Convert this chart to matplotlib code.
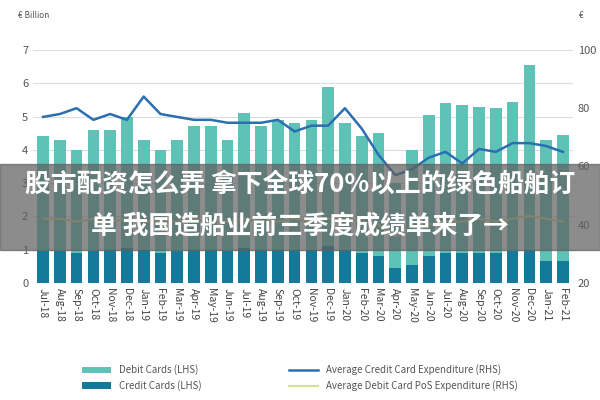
import matplotlib
matplotlib.use("Agg")
import matplotlib.pyplot as plt
from matplotlib.patches import Rectangle

plt.rcParams['font.family'] = ['Noto Sans CJK SC', 'DejaVu Sans']

months = ["Jul-18","Aug-18","Sep-18","Oct-18","Nov-18","Dec-18","Jan-19","Feb-19","Mar-19","Apr-19","May-19","Jun-19",
          "Jul-19","Aug-19","Sep-19","Oct-19","Nov-19","Dec-19","Jan-20","Feb-20","Mar-20","Apr-20","May-20","Jun-20",
          "Jul-20","Aug-20","Sep-20","Oct-20","Nov-20","Dec-20","Jan-21","Feb-21"]
total = [4.4,4.3,4.0,4.6,4.6,5.0,4.3,4.0,4.3,4.7,4.7,4.3,5.1,4.7,4.9,4.8,4.9,5.9,4.8,4.4,4.5,3.0,4.0,5.05,
         5.4,5.35,5.3,5.25,5.45,6.55,4.3,4.45]
credit = [0.95,0.95,0.9,0.95,1.0,1.05,1.0,0.9,0.95,1.0,1.0,0.95,1.05,1.0,1.0,1.0,1.0,1.1,1.0,0.9,0.8,0.45,0.55,0.8,
          0.9,0.9,0.9,0.9,0.95,1.0,0.65,0.65]
debit = [t - c for t, c in zip(total, credit)]
credit_exp = [77,78,80,76,78,76,84,78,77,76,76,75,75,75,76,72,74,74,80,73,64,57,59,63,65,61,66,65,68,68,67,65]
debit_exp = [42,42,41,42,41,42,41,41,41,42,41,41,42,41,41,42,41,42,42,41,40,36,38,40,41,41,42,41,42,43,42,41]

fig = plt.figure(figsize=(6,4), dpi=100)
ax = fig.add_axes([0.055,0.293,0.90,0.582])
x = list(range(len(months)))
ax.bar(x, credit, width=0.7, color='#157a99', label='Credit Cards (LHS)')
ax.bar(x, debit, width=0.7, bottom=credit, color='#5ec2b7', label='Debit Cards (LHS)')
ax.set_ylim(0,7)
ax.set_xlim(-0.6, len(x)-0.4)
ax.set_yticks(range(0,8))
ax.set_xticks(x)
ax.set_xticklabels(months, rotation=-90, fontsize=7.5, color='#444')
ax.tick_params(axis='y', labelsize=8, colors='#555', length=0)
ax.tick_params(axis='x', length=0)
ax.grid(axis='y', color='#dddddd', lw=0.8)
ax.set_axisbelow(True)
for s in ax.spines.values():
    s.set_visible(False)
ax2 = ax.twinx()
l1, = ax2.plot(x, credit_exp, color='#2a6fb0', lw=1.8, label='Average Credit Card Expenditure (RHS)')
l2, = ax2.plot(x, debit_exp, color='#d6df9a', lw=1.5, label='Average Debit Card PoS Expenditure (RHS)')
ax2.set_ylim(20,100)
ax2.set_yticks([20,40,60,80,100])
ax2.tick_params(axis='y', labelsize=8, colors='#555', length=0)
for s in ax2.spines.values():
    s.set_visible(False)
fig.text(0.03,0.955,'€ Billion', fontsize=6, color='#555')
fig.text(0.965,0.955,'€', fontsize=6, color='#555')

h1, lb1 = ax.get_legend_handles_labels()
fig.legend([h1[1], h1[0], l1, l2], [lb1[1], lb1[0], l1.get_label(), l2.get_label()],
           loc='lower center', ncol=2, bbox_to_anchor=(0.5,0.0), frameon=False, fontsize=7,
           columnspacing=9, handlelength=3, labelcolor='#555')

fig.patches.append(Rectangle((0,0.375),1,0.215, transform=fig.transFigure, color='#606060', alpha=0.72, zorder=10))
fig.text(0.5,0.54,'股市配资怎么弄 拿下全球70%以上的绿色船舶订', ha='center', va='center', fontsize=18.5,
         fontweight='bold', color='white', zorder=11)
fig.text(0.5,0.435,'单 我国造船业前三季度成绩单来了→', ha='center', va='center', fontsize=18.5,
         fontweight='bold', color='white', zorder=11)
fig.savefig('out.png', dpi=100)
